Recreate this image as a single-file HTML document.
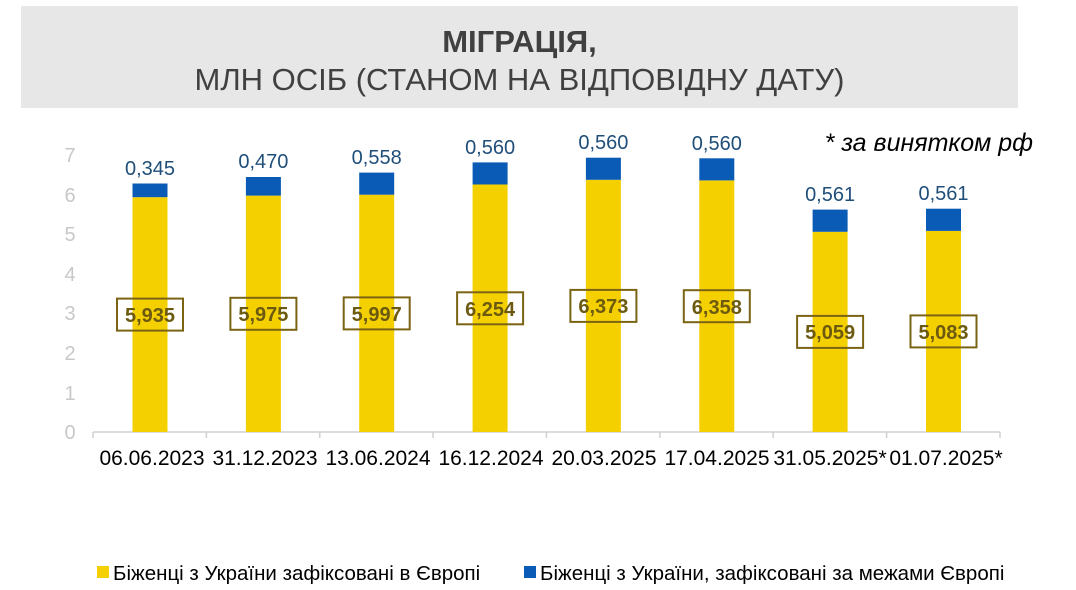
<!DOCTYPE html>
<html><head><meta charset="utf-8"><style>
body{margin:0;width:1076px;height:590px;background:#fff;overflow:hidden;font-family:"Liberation Sans",Arial,sans-serif;}
.title{position:absolute;left:21px;top:6px;width:997px;height:102px;background:#e7e7e7;text-align:center;color:#404040;}
</style></head><body>
<div class="title">
<div style="position:absolute;top:18px;width:100%;font-size:31px;font-weight:bold;">МІГРАЦІЯ,</div>
<div style="position:absolute;top:56px;width:100%;font-size:31px;">МЛН ОСІБ (СТАНОМ НА ВІДПОВІДНУ ДАТУ)</div>
</div>
<svg width="1076" height="590" style="position:absolute;left:0;top:0" font-family="Liberation Sans, Arial, sans-serif">
<g fill="#c8c8c8" font-size="20" text-anchor="middle">
<text x="70" y="439">0</text><text x="70" y="400">1</text><text x="70" y="360">2</text><text x="70" y="320">3</text><text x="70" y="281">4</text><text x="70" y="241">5</text><text x="70" y="202">6</text><text x="70" y="162">7</text>
</g>
<line x1="93" y1="432" x2="1000" y2="432" stroke="#d0d0d0" stroke-width="1.5"/>
<g stroke="#d0d0d0" stroke-width="1.5">
<line x1="93" y1="432" x2="93" y2="438"/><line x1="206.4" y1="432" x2="206.4" y2="438"/><line x1="319.8" y1="432" x2="319.8" y2="438"/><line x1="433.1" y1="432" x2="433.1" y2="438"/><line x1="546.5" y1="432" x2="546.5" y2="438"/><line x1="659.9" y1="432" x2="659.9" y2="438"/><line x1="773.2" y1="432" x2="773.2" y2="438"/><line x1="886.6" y1="432" x2="886.6" y2="438"/><line x1="1000" y1="432" x2="1000" y2="438"/>
</g>
<g fill="#f5d000">
<rect x="132.5" y="197.2" width="35" height="234.8"/>
<rect x="245.9" y="195.6" width="35" height="236.4"/>
<rect x="359.2" y="194.7" width="35" height="237.3"/>
<rect x="472.6" y="184.5" width="35" height="247.5"/>
<rect x="585.9" y="179.8" width="35" height="252.2"/>
<rect x="699.3" y="180.4" width="35" height="251.6"/>
<rect x="812.6" y="231.8" width="35" height="200.2"/>
<rect x="926" y="230.9" width="35" height="201.1"/>
</g>
<g fill="#0a5bb5">
<rect x="132.5" y="183.5" width="35" height="13.7"/>
<rect x="245.9" y="177" width="35" height="18.6"/>
<rect x="359.2" y="172.6" width="35" height="22.1"/>
<rect x="472.6" y="162.4" width="35" height="22.1"/>
<rect x="585.9" y="157.7" width="35" height="22.1"/>
<rect x="699.3" y="158.3" width="35" height="22.1"/>
<rect x="812.6" y="209.6" width="35" height="22.2"/>
<rect x="926" y="208.7" width="35" height="22.2"/>
</g>
<g font-size="20" text-anchor="middle" fill="#1f4e79">
<text x="150" y="175">0,345</text>
<text x="263.4" y="168">0,470</text>
<text x="376.7" y="164">0,558</text>
<text x="490.1" y="154">0,560</text>
<text x="603.4" y="149">0,560</text>
<text x="716.8" y="150">0,560</text>
<text x="830.1" y="201">0,561</text>
<text x="943.5" y="200">0,561</text>
</g>
<g fill="none" stroke="#7a6414" stroke-width="2">
<rect x="117" y="298.6" width="66" height="32"/>
<rect x="230.4" y="297.8" width="66" height="32"/>
<rect x="343.7" y="297.4" width="66" height="32"/>
<rect x="457.1" y="292.3" width="66" height="32"/>
<rect x="570.4" y="289.9" width="66" height="32"/>
<rect x="683.8" y="290.2" width="66" height="32"/>
<rect x="797.1" y="315.9" width="66" height="32"/>
<rect x="910.5" y="315.4" width="66" height="32"/>
</g>
<g font-size="20" font-weight="bold" text-anchor="middle" fill="#6b5a10">
<text x="150" y="322">5,935</text>
<text x="263.4" y="321">5,975</text>
<text x="376.7" y="321">5,997</text>
<text x="490.1" y="316">6,254</text>
<text x="603.4" y="313">6,373</text>
<text x="716.8" y="314">6,358</text>
<text x="830.1" y="339">5,059</text>
<text x="943.5" y="339">5,083</text>
</g>
<g font-size="21" text-anchor="middle" fill="#000">
<text x="152" y="465">06.06.2023</text>
<text x="265" y="465">31.12.2023</text>
<text x="378" y="465">13.06.2024</text>
<text x="491" y="465">16.12.2024</text>
<text x="604" y="465">20.03.2025</text>
<text x="717" y="465">17.04.2025</text>
<text x="830" y="465">31.05.2025*</text>
<text x="946" y="465">01.07.2025*</text>
</g>
<text x="1033" y="151" font-size="25" font-style="italic" text-anchor="end" fill="#000">* за винятком рф</text>
<rect x="97" y="566" width="12" height="12" fill="#f5d000"/>
<text x="113" y="580" font-size="20.5" fill="#000">Біженці з України зафіксовані в Європі</text>
<rect x="524" y="566" width="12" height="12" fill="#0a5bb5"/>
<text x="540" y="580" font-size="20.5" fill="#000">Біженці з України, зафіксовані за межами Європі</text>
</svg>
</body></html>
